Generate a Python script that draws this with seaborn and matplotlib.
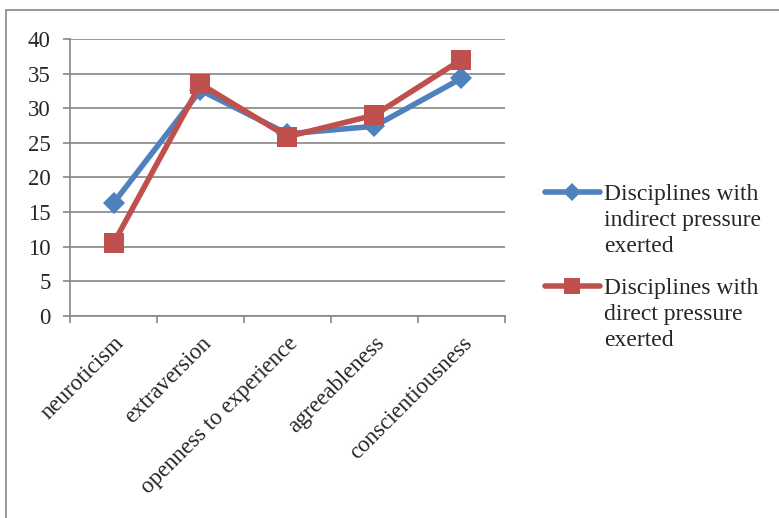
import numpy as np
import pandas as pd
import seaborn as sns
import matplotlib.pyplot as plt
from matplotlib.patches import Rectangle
from matplotlib.lines import Line2D

# Personality traits by type of discipline pressure.
traits = ['neuroticism', 'extraversion', 'openness to experience', 'agreeableness', 'conscientiousness']
indirect = [16.3, 32.6, 26.3, 27.4, 34.3]
direct = [10.5, 33.5, 25.9, 29.0, 37.0]
series = ['Disciplines with\nindirect pressure\nexerted', 'Disciplines with\ndirect pressure\nexerted']
colors = ['#4F81BD', '#C0504D']

df = pd.DataFrame({
    'trait': traits * 2,
    'score': indirect + direct,
    'series': [series[0]] * len(traits) + [series[1]] * len(traits),
})

sns.set_style('white')
plt.rcParams['font.family'] = ['Liberation Serif', 'DejaVu Serif']

fig = plt.figure(figsize=(7.79, 5.18), dpi=100)
ax = fig.add_axes([0.0899, 0.39, 0.648 - 0.0899, 0.9247 - 0.39])

sns.lineplot(data=df, x='trait', y='score', hue='series', style='series',
             markers=['D', 's'], dashes=False, palette=colors,
             linewidth=4, markersize=11, markeredgewidth=0, ax=ax, legend=False)
ax.lines[1].set_markersize(14)

ax.set_ylim(0, 40)
ax.set_yticks(range(0, 41, 5))
ax.set_xlim(-0.5, len(traits) - 0.5)
ax.set_xticks(range(len(traits)))
ax.set_xticklabels(traits, rotation=45, ha='right', rotation_mode='anchor', fontsize=16.5)
ax.set_xticks(np.arange(-0.5, len(traits)), minor=True)
ax.tick_params(axis='x', which='major', length=0, pad=12)
ax.tick_params(axis='x', which='minor', length=5, width=1.2, color='#868686', direction='out', bottom=True)
ax.tick_params(axis='y', length=5, width=1.2, color='#868686', direction='out', left=True, labelsize=16.5, pad=9)
ax.set_xlabel('')
ax.set_ylabel('')

ax.grid(axis='y', color='#868686', linewidth=1.2)
ax.set_axisbelow(True)
for side in ['top', 'right']:
    ax.spines[side].set_visible(False)
for side in ['left', 'bottom']:
    ax.spines[side].set_color('#868686')
    ax.spines[side].set_linewidth(1.2)

# Legend drawn by hand so the key sits level with the first text line.
for i, label in enumerate(series):
    src = ax.lines[i]
    y = 1 - (192 + 94 * i) / 518
    fig.add_artist(Line2D([545 / 779, 600 / 779], [y, y], transform=fig.transFigure,
                          color=colors[i], linewidth=4, solid_capstyle='round'))
    fig.add_artist(Line2D([572 / 779], [y], transform=fig.transFigure,
                          color=colors[i], marker=src.get_marker(),
                          markersize=9 if i == 0 else 12, markeredgewidth=0))
    fig.text(604 / 779, y + 8 / 518, label, ha='left', va='top', fontsize=17,
             linespacing=1.32, transform=fig.transFigure)

# Outer chart border (only top and left are visible in the crop).
fig.patches.append(Rectangle((6 / 779, -0.1), 1.2, (518 - 10) / 518 + 0.1,
                             transform=fig.transFigure, fill=False,
                             edgecolor='#868686', linewidth=1.2, clip_on=False))

fig.savefig('out.png', dpi=100)
